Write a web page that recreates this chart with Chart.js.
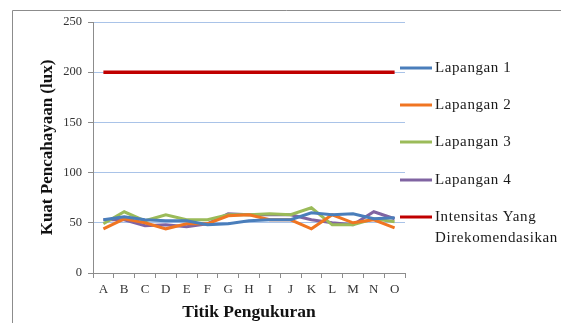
<!DOCTYPE html>
<html>
<head>
<meta charset="utf-8">
<script src="https://cdn.jsdelivr.net/npm/chart.js@4/dist/chart.umd.min.js"></script>
<style>
  html, body { margin: 0; padding: 0; background: #fff; }
  #wrap { width: 561px; height: 323px; }
</style>
</head>
<body>
<div id="wrap"><canvas id="chart" width="561" height="323"></canvas></div>
<script>
const categories = ['A', 'B', 'C', 'D', 'E', 'F', 'G', 'H', 'I', 'J', 'K', 'L', 'M', 'N', 'O']
const lapangan1 = [53, 56, 53, 52, 52, 48, 49, 52, 53, 53, 60, 58, 59, 54, 55]
const lapangan2 = [44, 54, 50, 44, 49, 49, 57, 58, 53, 53, 44, 58, 50, 53, 45]
const lapangan3 = [49, 61, 52, 58, 53, 53, 58, 58, 59, 58, 65, 48, 48, 54, 51]
const lapangan4 = [53, 53, 47, 48, 46, 49, 59, 58, 58, 58, 53, 50, 48, 61, 54]
const rekomendasi = [200, 200, 200, 200, 200, 200, 200, 200, 200, 200, 200, 200, 200, 200, 200]
const yTicks = [0, 50, 100, 150, 200, 250]

const serif = '"Liberation Serif", "Times New Roman", serif'

const series = [
    {label: 'Lapangan 1', data: lapangan1, color: '#4a7ebb'},
    {label: 'Lapangan 2', data: lapangan2, color: '#f07522'},
    {label: 'Lapangan 3', data: lapangan3, color: '#9bbb59'},
    {label: ['Intensitas Yang', 'Direkomendasikan'], data: rekomendasi, color: '#c00000'},
    {label: 'Lapangan 4', data: lapangan4, color: '#8064a2'}
]
// legend order as in the picture
const legendOrder = [0, 1, 2, 4, 3]

const frameAndLegend = {
    id: 'frameAndLegend',
    afterDraw(chart) {
        const ctx = chart.ctx
        ctx.save()
        // outer frame: top and left edges only
        ctx.strokeStyle = '#8c8c8c'
        ctx.lineWidth = 1
        ctx.beginPath()
        ctx.moveTo(12.5, 323)
        ctx.lineTo(12.5, 10.5)
        ctx.lineTo(561, 10.5)
        ctx.stroke()

        // legend
        const rowY = [68, 105, 142, 180, 217]
        ctx.font = '15px ' + serif
        ctx.letterSpacing = '0.6px'
        ctx.fillStyle = '#1a1a1a'
        ctx.textBaseline = 'middle'
        legendOrder.forEach((idx, i) => {
            const s = series[idx]
            const y = rowY[i]
            ctx.strokeStyle = s.color
            ctx.lineWidth = 3
            ctx.beginPath()
            ctx.moveTo(400, y)
            ctx.lineTo(432, y)
            ctx.stroke()
            const lines = Array.isArray(s.label) ? s.label : [s.label]
            lines.forEach((t, k) => ctx.fillText(t, 435, y + k * 21))
        })
        ctx.restore()
    }
}

new Chart(document.getElementById('chart'), {
    type: 'line',
    data: {
        labels: categories,
        datasets: series.map(s => ({
            label: Array.isArray(s.label) ? s.label.join(' ') : s.label,
            data: s.data,
            borderColor: s.color,
            backgroundColor: s.color,
            borderWidth: s.data === rekomendasi ? 3.5 : 3,
            pointRadius: 0,
            tension: 0,
            fill: false
        }))
    },
    options: {
        responsive: false,
        animation: false,
        events: [],
        layout: {padding: {left: 12, top: 22, right: 156, bottom: 0}},
        plugins: {
            legend: {display: false},
            tooltip: {enabled: false}
        },
        scales: {
            x: {
                offset: true,
                afterFit: (s) => { s.height = 50 },
                border: {color: '#8c8c8c', width: 1},
                grid: {
                    display: true,
                    offset: true,
                    drawOnChartArea: false,
                    drawTicks: true,
                    tickLength: 5,
                    color: '#8c8c8c'
                },
                ticks: {
                    color: '#333',
                    font: {family: serif, size: 13},
                    padding: 4,
                    maxRotation: 0,
                    autoSkip: false
                },
                title: {
                    display: true,
                    text: 'Titik Pengukuran',
                    color: '#111',
                    font: {family: serif, size: 17.5, weight: 'bold'},
                    padding: {top: 0, bottom: 0}
                }
            },
            y: {
                min: 0,
                max: 250,
                afterFit: (s) => { s.width = 81 },
                afterBuildTicks: (s) => { s.ticks = yTicks.map(v => ({value: v})) },
                border: {color: '#8c8c8c', width: 1},
                grid: {
                    color: (c) => c.tick && c.tick.value === 0 ? '#8c8c8c' : '#a9c3e8',
                    tickColor: '#8c8c8c',
                    tickLength: 5
                },
                ticks: {
                    color: '#333',
                    font: {family: serif, size: 12.5},
                    padding: 6
                },
                title: {
                    display: true,
                    text: 'Kuat Pencahayaan (lux)',
                    color: '#111',
                    font: {family: serif, size: 17, weight: 'bold'},
                    padding: {top: 25, bottom: 0}
                }
            }
        }
    },
    plugins: [frameAndLegend]
})
</script>
</body>
</html>
